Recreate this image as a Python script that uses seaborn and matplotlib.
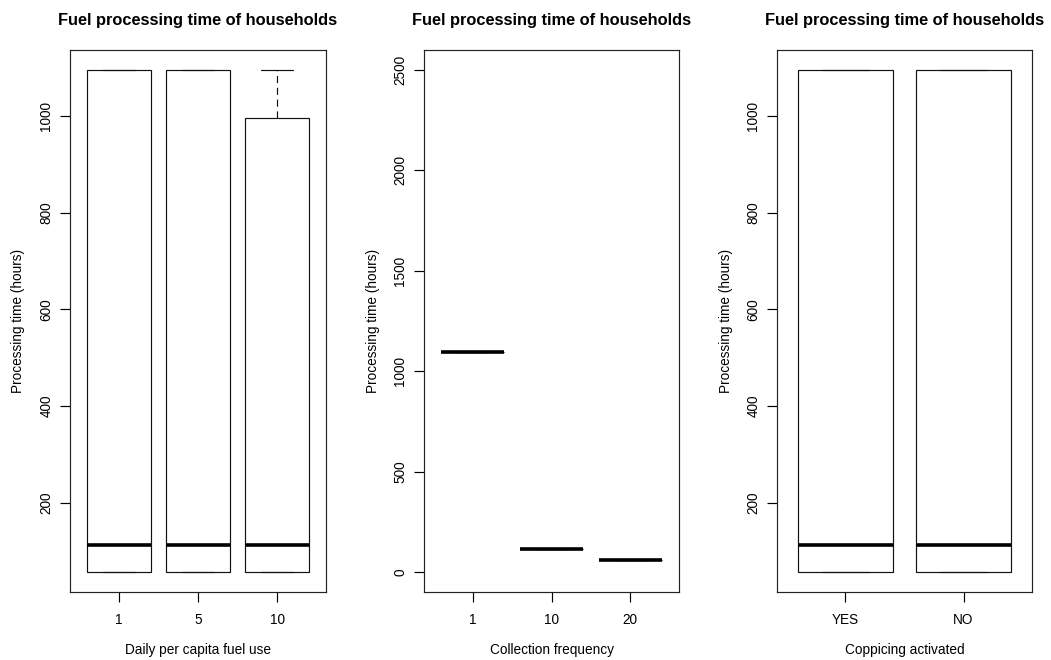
import numpy as np
import pandas as pd
import matplotlib
matplotlib.use("Agg")
import matplotlib.pyplot as plt
import seaborn as sns

# Five-number summaries (min, lower quartile, median, upper quartile, max)
fuel_use_levels = ["1", "5", "10"]
fuel_use_min = [57, 57, 57]
fuel_use_q1 = [57, 57, 57]
fuel_use_median = [113, 113, 113]
fuel_use_q3 = [1095, 1095, 995]
fuel_use_max = [1095, 1095, 1095]

collection_levels = ["1", "10", "20"]
collection_min = [1095, 113, 57]
collection_q1 = [1095, 113, 57]
collection_median = [1095, 113, 57]
collection_q3 = [1095, 113, 57]
collection_max = [1095, 113, 57]

coppicing_levels = ["YES", "NO"]
coppicing_min = [57, 57]
coppicing_q1 = [57, 57]
coppicing_median = [113, 113]
coppicing_q3 = [1095, 1095]
coppicing_max = [1095, 1095]

title = "Fuel processing time of households"
ylabel = "Processing time (hours)"
xlabels = ["Daily per capita fuel use", "Collection frequency", "Coppicing activated"]
yticks_small = [200, 400, 600, 800, 1000]
yticks_collection = [0, 500, 1000, 1500, 2000, 2500]


def summary_frame(levels, mins, q1s, meds, q3s, maxs):
    rows = []
    for lev, a, b, c, d, e in zip(levels, mins, q1s, meds, q3s, maxs):
        for v in (a, b, c, d, e):
            rows.append({"group": lev, "hours": v})
    return pd.DataFrame(rows)


sns.set_style("ticks")
plt.rcParams["font.family"] = ["Liberation Sans", "DejaVu Sans"]
plt.rcParams["text.color"] = "black"
plt.rcParams["axes.labelcolor"] = "black"
plt.rcParams["xtick.color"] = "black"
plt.rcParams["ytick.color"] = "black"

W, H = 1051, 660
fig = plt.figure(figsize=(W / 100, H / 100), dpi=100)


def px_axes(left, right, top=50, bottom=592):
    return fig.add_axes([left / W, (H - bottom) / H, (right - left) / W, (bottom - top) / H])


panels = [
    (px_axes(70, 326), summary_frame(fuel_use_levels, fuel_use_min, fuel_use_q1,
                                      fuel_use_median, fuel_use_q3, fuel_use_max),
     fuel_use_levels, xlabels[0], yticks_small),
    (px_axes(424, 679), summary_frame(collection_levels, collection_min, collection_q1,
                                       collection_median, collection_q3, collection_max),
     collection_levels, xlabels[1], yticks_collection),
    (px_axes(777, 1032), summary_frame(coppicing_levels, coppicing_min, coppicing_q1,
                                        coppicing_median, coppicing_q3, coppicing_max),
     coppicing_levels, xlabels[2], yticks_small),
]

fs = 9.8
for i, (ax, df, order, xlab, yt) in enumerate(panels):
    sns.boxplot(
        data=df, x="group", y="hours", order=order, ax=ax,
        whis=(0, 100), width=0.8, color="white", linecolor="#111111",
        linewidth=0.85, saturation=1, showfliers=False,
        medianprops={"linewidth": 2.6, "color": "black", "solid_capstyle": "butt"},
        whiskerprops={"linestyle": (0, (6, 4)), "linewidth": 0.85},
        capprops={"linewidth": 0.85},
    )
    n = len(order)
    ax.set_xlim(-0.5 - 0.04 * n, n - 0.5 + 0.04 * n)
    if i == 1:
        lo, hi = 0, 2500
    else:
        lo = min(df["hours"])
        hi = max(df["hours"])
    pad = 0.04 * (hi - lo)
    ax.set_ylim(lo - pad, hi + pad)
    ax.set_yticks(yt)
    ax.set_yticklabels([str(t) for t in yt], rotation=90, va="center")
    ax.tick_params(axis="both", length=7, width=0.85, labelsize=fs, direction="out")
    ax.tick_params(axis="x", pad=8)
    ax.tick_params(axis="y", pad=5)
    for s in ax.spines.values():
        s.set_visible(True)
        s.set_linewidth(0.85)
        s.set_color("#222222")
    ax.set_title(title, fontsize=11.8, fontweight="bold", pad=18)
    ax.set_xlabel(xlab, fontsize=fs)
    ax.set_ylabel(ylabel, fontsize=fs)
    ax.xaxis.set_label_coords(0.5, -0.094)
    ax.yaxis.set_label_coords(-0.174, 0.5)
    ax.grid(False)

fig.savefig("out.png", dpi=100, facecolor="white")
